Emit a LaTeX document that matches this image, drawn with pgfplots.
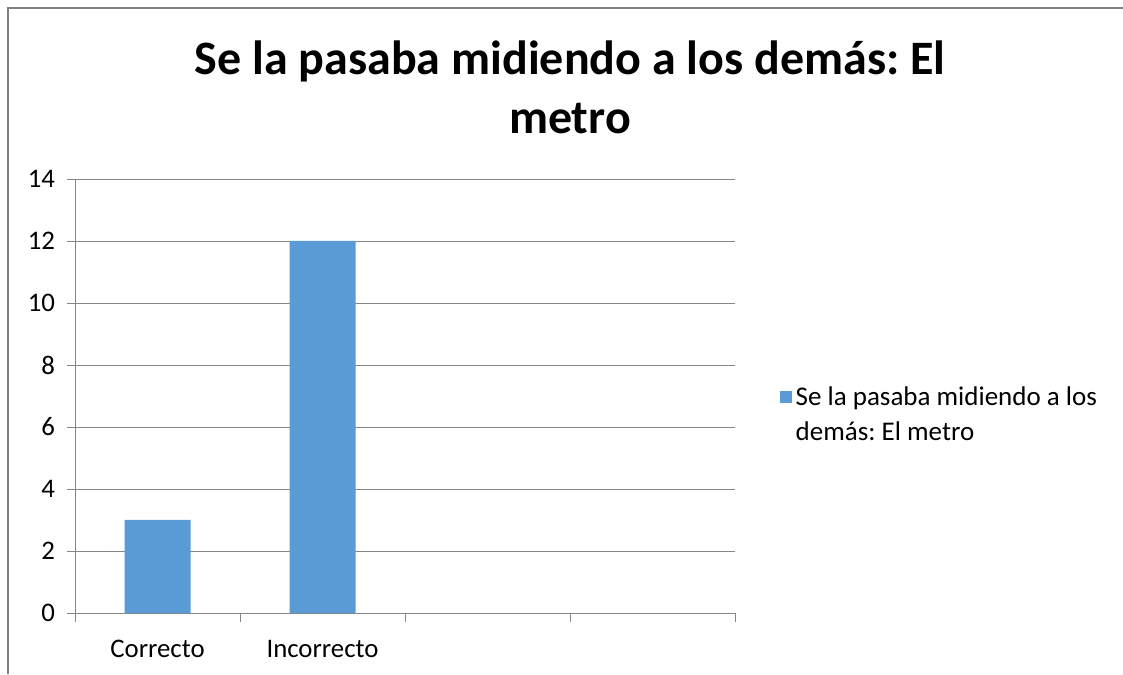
\documentclass[border=0pt]{standalone}
\usepackage{fontspec}
\setmainfont{Carlito}
\usepackage{pgfplots}
\pgfplotsset{compat=1.18}
\definecolor{barblue}{RGB}{91,155,213}
\definecolor{axgray}{RGB}{134,134,134}
\definecolor{framegray}{RGB}{128,128,128}
\frenchspacing

\begin{document}
\begin{tikzpicture}[x=0.5pt,y=0.5pt]
% picture = 1123 x 674 px, 1px = 0.5pt
\useasboundingbox (0,0) rectangle (1123,674);
\draw[framegray,line width=1pt] (8,0) -- (8,666) -- (1123,666);
\node[font=\fontsize{24}{29.5}\selectfont\bfseries,align=center,anchor=base]
  at (570,540) {Se la pasaba midiendo a los demás: El\\metro};
\begin{axis}[
  at={(37.5pt,30.5pt)}, anchor=south west,
  scale only axis, width=330pt, height=217pt,
  ybar, bar width=33pt,
  xmin=0, xmax=4, ymin=0, ymax=14,
  ytick={0,2,...,14},
  xtick={0.5,1.5,2.5,3.5},
  xticklabels={Correcto,Incorrecto,,},
  minor xtick={0,1,2,3,4},
  major x tick style={draw=none},
  minor x tick style={axgray},
  minor tick length=4.5pt,
  major tick length=4pt,
  tick align=outside,
  xtick pos=bottom, ytick pos=left,
  axis x line*=bottom, axis y line*=left,
  axis line style={axgray,-},
  y tick style={axgray},
  ymajorgrids, grid style={axgray},
  tick label style={font=\fontsize{13.4}{16}\selectfont},
  /pgf/number format/assume math mode=true,
  yticklabel style={xshift=-2.5pt},
  xticklabel style={yshift=-6pt},
  legend style={at={(1.058,0.455)},anchor=west,draw=none,fill=none,
    font=\fontsize{13.5}{17.5}\selectfont,
    cells={align=left,anchor=west}},
  legend image code/.code={\fill[barblue] (0pt,6.5pt) rectangle (6pt,12.5pt);},
]
\addplot[fill=barblue,draw=none] coordinates {(0.5,3) (1.5,12)};
\legend{Se la pasaba midiendo a los\\demás: El metro}
\end{axis}
\end{tikzpicture}
\end{document}
